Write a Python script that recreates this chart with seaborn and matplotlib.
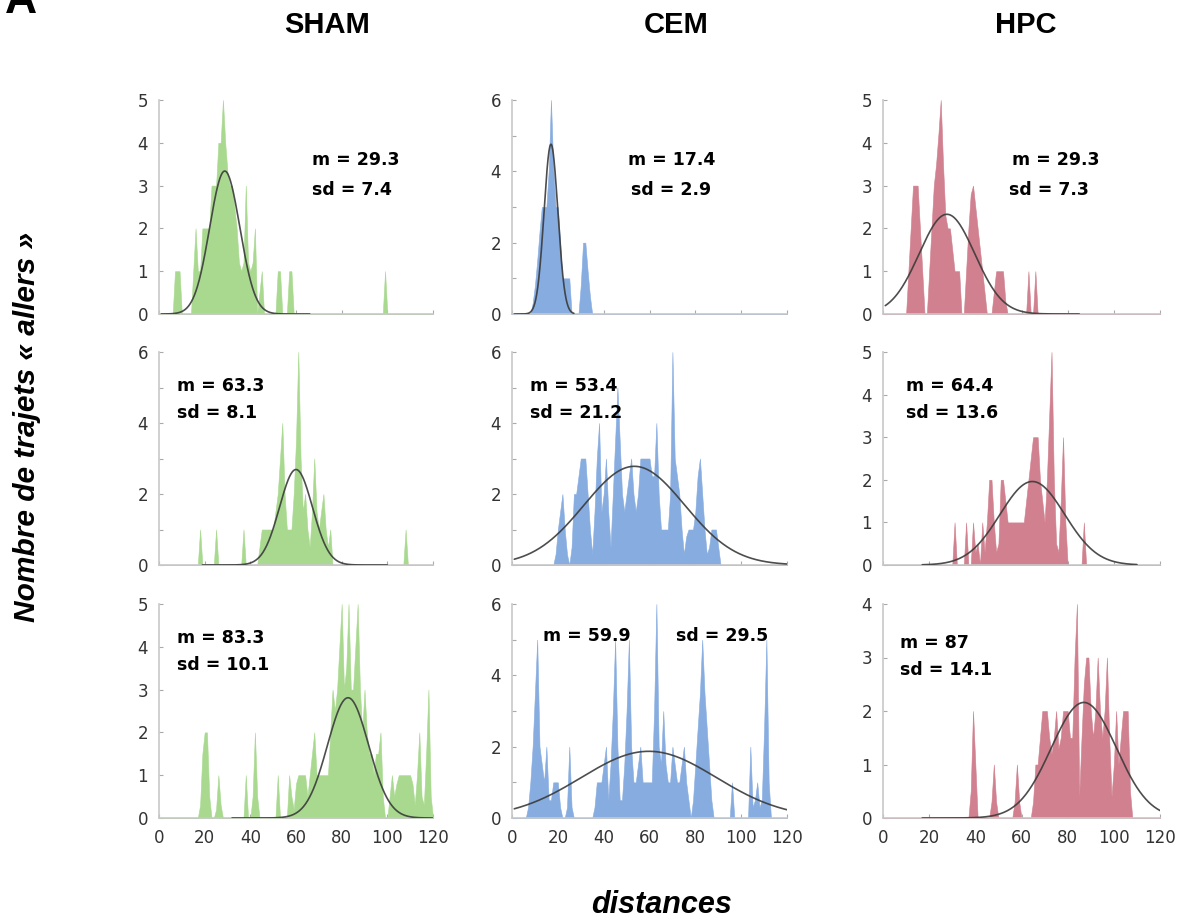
import numpy as np
import pandas as pd
import matplotlib
matplotlib.use("Agg")
import matplotlib.pyplot as plt
import seaborn as sns

# ---------------- data ----------------
groups = ["SHAM", "CEM", "HPC"]
colors = {"SHAM": "#a8d98f", "CEM": "#86ace0", "HPC": "#d0808e"}

# sparse histograms: distance -> number of trips (zero elsewhere)
sham1_x = [7, 8, 9, 15, 16, 17, 18, 19, 20, 21, 22, 23, 24, 25, 26, 27, 28, 29, 30, 31, 32, 33, 34, 35,
           36, 37, 38, 39, 40, 41, 42, 44, 45, 52, 53, 57, 58, 99]
sham1_n = [1, 1, 1, 1, 2, 1, 1, 2, 2, 2, 2, 3, 3, 3, 4, 4, 5, 4, 3.3, 3, 3, 2.5, 2, 1.2,
           1, 1.2, 3, 1.2, 1, 1.2, 2, 0.5, 1, 1, 1, 1, 1, 1]
cem1_x = [9, 10, 11, 12, 13, 14, 15, 16, 17, 18, 19, 20, 21, 22, 23, 24, 25, 30, 31, 32, 33, 34]
cem1_n = [0.3, 0.8, 1.5, 2.3, 3, 3, 3, 4, 6, 4.1, 3, 3, 2, 1, 1, 1, 1, 0.8, 2, 2, 1.2, 0.5]
hpc1_x = [11, 12, 13, 14, 15, 16, 17, 20, 21, 22, 23, 24, 25, 26, 27, 28, 29, 30, 31, 32, 33,
          36, 37, 38, 39, 40, 41, 42, 43, 44, 48, 49, 50, 51, 52, 53, 63, 66]
hpc1_n = [1, 2, 3, 3, 3, 2, 1, 1, 2, 3, 3.5, 4.2, 5, 3.5, 2.3, 2, 2, 1.5, 1, 1, 1,
          1, 2, 2.8, 3, 2.5, 2, 1.5, 1, 0.5, 0.5, 1, 1, 1, 1, 0.3, 1, 1]

sham2_x = [18, 25, 37, 44, 45, 46, 47, 48, 49, 50, 51, 52, 53, 54, 55, 56, 57, 58, 59, 60, 61, 62, 63,
           64, 65, 66, 67, 68, 69, 70, 71, 72, 73, 74, 75, 108]
sham2_n = [1, 1, 1, 0.5, 1, 1, 1, 1, 1, 1, 1.5, 2, 3, 4, 2, 1, 1, 1, 2, 3.5, 6, 3, 1.5,
           2, 1, 0.5, 1.5, 3, 1.5, 1, 1.5, 2, 1, 0.5, 1, 1]
cem2_x = list(range(19, 91))
cem2_n = [0.3, 1, 1.5, 2, 1, 0.3, 0, 0.5, 2, 2, 2.5, 3, 3, 3, 2, 1, 0.3, 1.5, 3, 4,
          1.5, 2, 3, 1.5, 0.5, 2, 3.5, 5, 3.5, 2, 1.5, 2, 2.5, 3, 2, 1.5, 2, 3, 3, 3,
          3, 3, 2.5, 2.5, 4, 2, 1, 1, 1, 1, 2, 6, 3, 2.5, 2, 1, 0.3, 0.8, 1, 1,
          1, 1.5, 2.5, 3, 2, 1, 0.3, 0.5, 1, 1, 1, 0.5]
hpc2_x = [31, 36, 39, 40, 41, 43, 44, 45, 46, 47, 48, 49, 50, 51, 52, 53, 54, 55, 56, 57, 58, 59, 60,
          61, 62, 63, 64, 65, 66, 67, 68, 69, 70, 71, 72, 73, 74, 75, 76, 77, 78, 79, 87]
hpc2_n = [1, 1, 1, 0.3, 0.5, 1, 0.3, 1, 2, 2, 1, 0.3, 0.5, 2, 2, 1.5, 1, 1, 1, 1, 1, 1, 1,
          1, 1.5, 2, 2.5, 3, 3, 3, 2, 1.5, 1, 2, 3.5, 5, 2, 0.5, 0.3, 1.5, 3, 1, 1]

sham3_x = [18, 19, 20, 21, 22, 25, 26, 27, 38, 41, 42, 43, 52, 57, 58, 59, 60, 61, 62, 63, 64, 65, 66,
           67, 68, 69, 70, 71, 72, 73, 74, 75, 76, 77, 78, 79, 80, 81, 82, 83, 84, 85, 86, 87, 88,
           89, 90, 91, 92, 93, 94, 95, 96, 97, 98, 101, 102, 103, 104, 105, 106, 107, 108, 109,
           110, 111, 112, 113, 114, 115, 116, 117, 118, 119]
sham3_n = [0.3, 1.5, 2, 2, 0.5, 0.2, 1, 0.3, 1, 0.5, 2, 0.5, 1, 1, 0.5, 0.2, 0.8, 1, 1, 1, 1, 0.5, 1,
           1.5, 2, 1, 1, 1, 1, 1, 1, 2, 3, 2.5, 3, 4, 5, 3, 3.5, 5, 3, 3, 4, 5, 3,
           2, 3, 2, 1.5, 1.5, 1, 1.5, 1.5, 2, 0.5, 0.5, 1, 0.5, 0.8, 1, 1, 1, 1, 1,
           1, 0.8, 0.3, 1, 2, 0.5, 0.3, 1.5, 3, 0.5]
cem3_x = [7, 8, 9, 10, 11, 12, 13, 14, 15, 16, 17, 18, 19, 20, 21, 24, 25, 26,
          36, 37, 38, 39, 40, 41, 42, 43, 44, 45, 46, 47, 48, 49, 50, 51, 52, 53, 54, 55, 56,
          57, 58, 59, 60, 61, 62, 63, 64, 65, 66, 67, 68, 69, 70, 71, 72, 73, 74, 75, 76, 77,
          79, 80, 81, 82, 83, 84, 85, 86, 87, 96, 104, 105, 106, 107, 108, 109, 110, 111, 112]
cem3_n = [0.3, 1, 2, 3.5, 5, 2, 1.5, 1, 2, 0.5, 0.5, 1, 1, 1, 0.3, 0.3, 2, 0.3,
          0.3, 1, 1, 1, 1.5, 2, 0.5, 1.5, 3, 5, 2, 0.5, 0.5, 1.5, 3, 5, 2, 1, 1, 1.5, 2,
          1, 1, 1, 1, 1, 3, 6, 2, 1.5, 3, 1.5, 1, 1, 2, 1.5, 1, 1, 1.5, 2, 1, 0.5,
          0.5, 1.5, 2.5, 3.5, 5, 3.5, 2.5, 1.5, 0.5, 1, 2, 0.3, 0.5, 1, 0.3, 0.5, 2.5, 5, 1]
hpc3_x = [38, 39, 40, 47, 48, 49, 57, 58, 59, 65, 66, 67, 68, 69, 70, 71, 72, 73, 74, 75, 76, 77,
          78, 79, 80, 81, 82, 83, 84, 85, 86, 87, 88, 89, 90, 91, 92, 93, 94, 95, 96, 97, 98,
          99, 100, 101, 102, 103, 104, 105, 106, 107]
hpc3_n = [0.5, 2, 1, 0.3, 1, 0.3, 0.3, 1, 0.3, 0.3, 1, 1, 1.5, 2, 2, 2, 1.5, 1.2, 1.5, 2, 1.3, 1.5,
          2, 2, 2, 1.5, 1.5, 3, 4, 0.4, 1.5, 2.5, 3, 3, 2, 1.5, 2, 3, 2, 1.5, 2, 3, 1.5,
          0.4, 1, 2, 1, 1.5, 2, 2, 2, 0.5]

# fitted normal curves: centre, width, peak height, drawn range
fit_mu    = [[28.8, 17.0, 27.7], [60.0, 53.4, 64.7], [82.8, 59.7, 87.0]]
fit_sigma = [[6.6, 3.0, 12.0], [7.2, 22.0, 14.0], [9.0, 29.5, 14.1]]
fit_peak  = [[3.34, 4.76, 2.33], [2.69, 2.78, 1.96], [2.81, 1.87, 2.16]]
fit_range = [[(1, 66), (1, 27), (1, 85)], [(19, 100), (1, 120), (17, 110)], [(32, 120), (1, 120), (17, 120)]]

# displayed statistics
m_labels  = [["29.3", "17.4", "29.3"], ["63.3", "53.4", "64.4"], ["83.3", "59.9", "87"]]
sd_labels = [["7.4", "2.9", "7.3"], ["8.1", "21.2", "13.6"], ["10.1", "29.5", "14.1"]]

y_max   = [[5, 6, 5], [6, 6, 5], [5, 6, 4]]
y_step  = [[1, 2, 1], [2, 2, 1], [1, 2, 1]]
x_ticks = [0, 20, 40, 60, 80, 100, 120]

hist_x = [[sham1_x, cem1_x, hpc1_x], [sham2_x, cem2_x, hpc2_x], [sham3_x, cem3_x, hpc3_x]]
hist_n = [[sham1_n, cem1_n, hpc1_n], [sham2_n, cem2_n, hpc2_n], [sham3_n, cem3_n, hpc3_n]]

# ---------------- layout ----------------
sns.set_theme(style="white")
plt.rcParams["font.family"] = ["DejaVu Sans"]
plt.rcParams["text.color"] = "black"

W, H = 1183, 923
fig = plt.figure(figsize=(W / 100, H / 100), dpi=100)

col_px = [(159, 433), (512, 787), (883, 1160)]
row_px = [(100, 314), (352, 565), (604, 818)]

# text positions (figure pixels, left-aligned, vertically centred)
m_pos  = [[(312, 160), (628, 160), (1012, 160)], [(177, 386), (530, 386), (906, 386)],
          [(177, 638), (543, 636), (900, 643)]]
sd_pos = [[(312, 190), (631, 190), (1009, 190)], [(177, 413), (530, 413), (906, 413)],
          [(177, 665), (676, 636), (900, 670)]]

grid = np.arange(0, 121)
axis_col = "#c8c8c8"

for r in range(3):
    for c in range(3):
        x0, x1 = col_px[c]
        yt, yb = row_px[r]
        ax = fig.add_axes([x0 / W, 1 - yb / H, (x1 - x0) / W, (yb - yt) / H])
        g = groups[c]
        counts = pd.Series(0.0, index=grid)
        counts.loc[hist_x[r][c]] = hist_n[r][c]
        ax.fill_between(counts.index, 0, counts.values, color=colors[g], linewidth=0.4,
                        edgecolor=colors[g], zorder=2)

        lo, hi = fit_range[r][c]
        xs = np.linspace(lo, hi, 400)
        ys = fit_peak[r][c] * np.exp(-0.5 * ((xs - fit_mu[r][c]) / fit_sigma[r][c]) ** 2)
        sns.lineplot(x=xs, y=ys, ax=ax, color="#3a3a3a", linewidth=1.2, alpha=0.9, zorder=3)

        ax.set_xlim(0, 120)
        ax.set_ylim(0, y_max[r][c])
        ax.set_xticks(x_ticks)
        ax.set_yticks(np.arange(0, y_max[r][c] + 0.01, y_step[r][c]))
        if y_step[r][c] == 2:
            ax.set_yticks(np.arange(1, y_max[r][c], 2), minor=True)
        for side in ["top", "right"]:
            ax.spines[side].set_visible(False)
        for side in ["left", "bottom"]:
            ax.spines[side].set_color(axis_col)
            ax.spines[side].set_linewidth(1.2)
        ax.tick_params(axis="both", which="both", direction="in", length=3, width=0.8,
                       color="#aaaaaa", labelsize=12, labelcolor="#333333", pad=8)
        ax.tick_params(axis="y", which="both", left=True)
        ax.tick_params(axis="x", bottom=True)
        if r < 2:
            ax.set_xticklabels([])
        ax.set_xlabel("")
        ax.set_ylabel("")
        ax.grid(False)

        mx, my = m_pos[r][c]
        sx, sy = sd_pos[r][c]
        fig.text(mx / W, 1 - my / H, f"m = {m_labels[r][c]}", fontsize=12.5, fontweight="bold",
                 ha="left", va="center", color="black")
        fig.text(sx / W, 1 - sy / H, f"sd = {sd_labels[r][c]}", fontsize=12.5, fontweight="bold",
                 ha="left", va="center", color="black")

# column titles
title_x = [327, 676, 1026]
for c, g in enumerate(groups):
    fig.text(title_x[c] / W, 1 - 25 / H, g, fontsize=21, fontweight="bold",
             family="Liberation Sans", ha="center", va="center", color="black")

fig.text(0.004, 1 - 13 / H, "A", fontsize=32, fontweight="bold", family="Liberation Sans",
         ha="left", va="baseline", color="black")
fig.text(27 / W, 1 - 427 / H, "Nombre de trajets « allers »", rotation=90, fontsize=21.5,
         fontweight="bold", style="italic", family="Liberation Sans", ha="center", va="center",
         color="black")
fig.text(662 / W, 1 - 905 / H, "distances", fontsize=22, fontweight="bold", style="italic",
         family="Liberation Sans", ha="center", va="center", color="black")

fig.savefig("out.png", dpi=100, facecolor="white")
